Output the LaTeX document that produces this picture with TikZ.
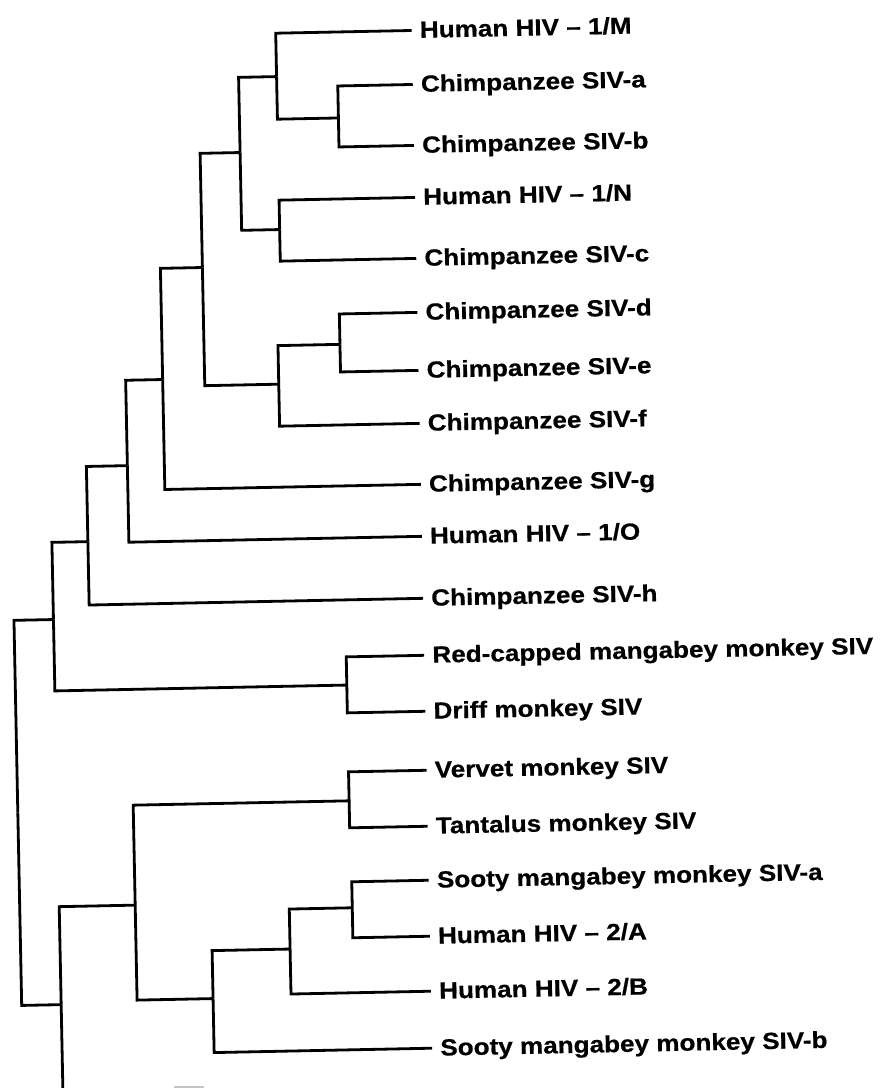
\documentclass[tikz,border=0pt]{standalone}
\usepackage{fontspec}
\newfontfamily\lblfont{Liberation Sans}[FakeStretch=1.12, FakeBold=0.6]
\tikzset{
  br/.style={line width=2.8pt, line join=miter},
  lbl/.style={anchor=base west, inner sep=0pt, font=\lblfont\bfseries\fontsize{23.3}{28}\selectfont},
}
\begin{document}
\begin{tikzpicture}[x=1pt,y=-1pt]
\fill[white] (0,0) rectangle (879,1088);
\useasboundingbox (0,0) rectangle (879,1088);
\begin{scope}[rotate around={1.15:(440,544)}, transform shape]
% leaf ends
\coordinate (e0) at (422,30);
\coordinate (e1) at (422,84);
\coordinate (e2) at (422,145);
\coordinate (e3) at (422,197);
\coordinate (e4) at (422,258);
\coordinate (e5) at (422,312);
\coordinate (e6) at (422,370);
\coordinate (e7) at (422,423);
\coordinate (e8) at (422,484);
\coordinate (e9) at (422,536);
\coordinate (e10) at (422,598);
\coordinate (e11) at (422,655);
\coordinate (e12) at (422,711);
\coordinate (e13) at (422,770);
\coordinate (e14) at (422,826);
\coordinate (e15) at (422,880);
\coordinate (e16) at (422,936);
\coordinate (e17) at (422,991);
\coordinate (e18) at (422,1048);
% labels
\node[lbl] (t0) at (430,37.5) {Human HIV – 1/M};
\node[lbl] (t1) at (430,91.5) {Chimpanzee SIV-a};
\node[lbl] (t2) at (430,152.5) {Chimpanzee SIV-b};
\node[lbl] (t3) at (430,204.5) {Human HIV – 1/N};
\node[lbl] (t4) at (430,265.5) {Chimpanzee SIV-c};
\node[lbl] (t5) at (430,319.5) {Chimpanzee SIV-d};
\node[lbl] (t6) at (430,377.5) {Chimpanzee SIV-e};
\node[lbl] (t7) at (430,430.5) {Chimpanzee SIV-f};
\node[lbl] (t8) at (430,491.5) {Chimpanzee SIV-g};
\node[lbl] (t9) at (430,543.5) {Human HIV – 1/O};
\node[lbl] (t10) at (430,605.5) {Chimpanzee SIV-h};
\node[lbl] (t11) at (430,662.5) {Red-capped mangabey monkey SIV};
\node[lbl] (t12) at (430,718.5) {Driff monkey SIV};
\node[lbl] (t13) at (430,777.5) {Vervet monkey SIV};
\node[lbl] (t14) at (430,833.5) {Tantalus monkey SIV};
\node[lbl] (t15) at (430,887.5) {Sooty mangabey monkey SIV-a};
\node[lbl] (t16) at (430,943.5) {Human HIV – 2/A};
\node[lbl] (t17) at (430,998.5) {Human HIV – 2/B};
\node[lbl] (t18) at (430,1055.5) {Sooty mangabey monkey SIV-b};
% internal nodes
\coordinate (nAB) at (347,116);
\coordinate (nMAB) at (286,73.4);
\coordinate (nNC) at (286,226.4);
\coordinate (nM) at (248,148.6);
\coordinate (nDE) at (344,342.4);
\coordinate (nDEF) at (282,381);
\coordinate (nMDEF) at (208,262.8);
\coordinate (nG) at (166,374);
\coordinate (nO) at (129,459.4);
\coordinate (nH) at (88,534.6);
\coordinate (nRD) at (344,683.2);
\coordinate (nChimpRD) at (52,611.8);
\coordinate (nVT) at (344,799);
\coordinate (nSA2A) at (345,906);
\coordinate (nS2B) at (282,946);
\coordinate (nSB) at (204,994);
\coordinate (nAfr) at (128,899);
\coordinate (nLow) at (52,997);
\coordinate (root) at (12.5,804);
\coordinate (off) at (52,1120);
% branches
\draw[br] (nAB) |- (e1); \draw[br] (nAB) |- (e2);
\draw[br] (nMAB) |- (e0); \draw[br] (nMAB) |- (nAB);
\draw[br] (nNC) |- (e3); \draw[br] (nNC) |- (e4);
\draw[br] (nM) |- (nMAB); \draw[br] (nM) |- (nNC);
\draw[br] (nDE) |- (e5); \draw[br] (nDE) |- (e6);
\draw[br] (nDEF) |- (nDE); \draw[br] (nDEF) |- (e7);
\draw[br] (nMDEF) |- (nM); \draw[br] (nMDEF) |- (nDEF);
\draw[br] (nG) |- (nMDEF); \draw[br] (nG) |- (e8);
\draw[br] (nO) |- (nG); \draw[br] (nO) |- (e9);
\draw[br] (nH) |- (nO); \draw[br] (nH) |- (e10);
\draw[br] (nRD) |- (e11); \draw[br] (nRD) |- (e12);
\draw[br] (nChimpRD) |- (nH); \draw[br] (nChimpRD) |- (nRD);
\draw[br] (nVT) |- (e13); \draw[br] (nVT) |- (e14);
\draw[br] (nSA2A) |- (e15); \draw[br] (nSA2A) |- (e16);
\draw[br] (nS2B) |- (nSA2A); \draw[br] (nS2B) |- (e17);
\draw[br] (nSB) |- (nS2B); \draw[br] (nSB) |- (e18);
\draw[br] (nAfr) |- (nVT); \draw[br] (nAfr) |- (nSB);
\draw[br] (nLow) |- (nAfr); \draw[br] (nLow) -- (off);
\draw[br] (root) |- (nChimpRD); \draw[br] (root) |- (nLow);
\end{scope}
\coordinate (m1) at (174,1087);
\coordinate (m2) at (204,1087);
\draw[gray!45, line width=1.5pt] (m1) -- (m2);
\end{tikzpicture}
\end{document}
